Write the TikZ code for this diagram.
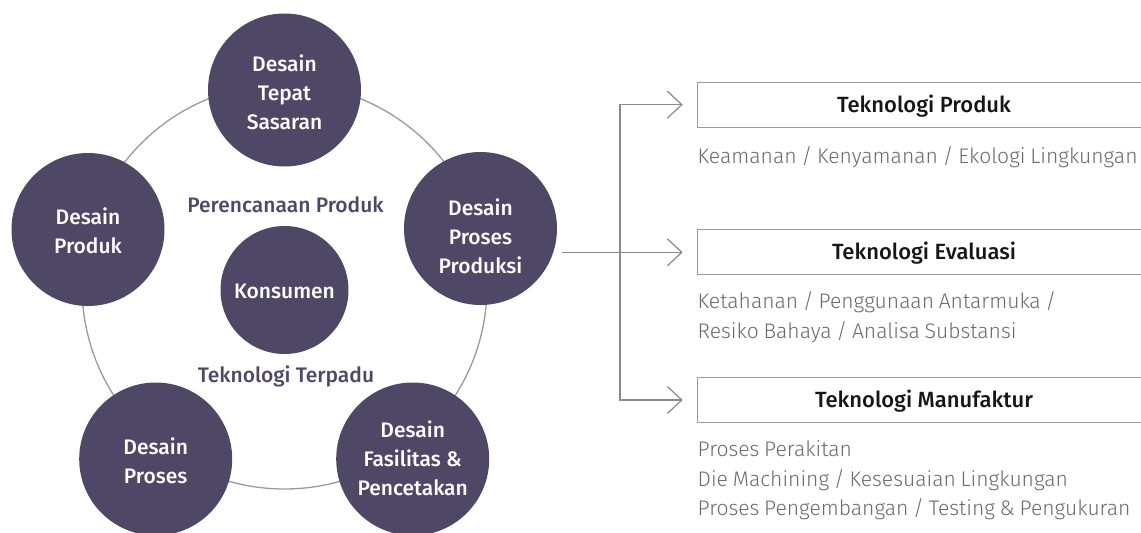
\documentclass[tikz,border=0pt]{standalone}
\usepackage{fontspec}
\setmainfont{Fira Sans}
\newfontfamily\fmed{Fira Sans Medium}
\newfontfamily\flight{Fira Sans Light}[WordSpace=0.8]
\usetikzlibrary{arrows.meta}
\definecolor{cfill}{HTML}{4E4766}
\definecolor{ringc}{HTML}{9A9A9A}
\definecolor{connc}{HTML}{8A8A8A}
\definecolor{boxc}{HTML}{9A9A9A}
\definecolor{titlec}{HTML}{161616}
\definecolor{descc}{HTML}{6A6A6A}
\begin{document}
\begin{tikzpicture}[x=1pt,y=-1pt,
  circ/.style={circle, fill=cfill, draw=none, minimum size=153pt, inner sep=0pt, outer sep=0pt},
  smallcirc/.style={circ, minimum size=128pt},
  ctext/.style={text=white, align=center, inner sep=0pt, font=\fmed\fontsize{21}{29}\selectfont},
  inlabel/.style={text=cfill, inner sep=0pt, anchor=base, font=\fmed\fontsize{21}{25}\selectfont},
  tbox/.style={draw=boxc, line width=1pt, minimum width=454pt, minimum height=45.3pt, inner sep=0pt, outer sep=0pt, anchor=west, text=titlec, text height=15pt, text depth=0pt, font=\fmed\fontsize{22}{26}\selectfont},
  desc/.style={text=descc, inner sep=0pt, anchor=base west, font=\flight\fontsize{21.1}{25}\selectfont},
  ringline/.style={draw=ringc, line width=1.3pt},
  conn/.style={draw=connc, line width=1.2pt},
  barb/.style={-{Straight Barb[length=14.5pt, width=27pt]}, shorten >=14.3pt},
  barbs/.style={{Straight Barb[length=14.5pt, width=27pt]}-{Straight Barb[length=14.5pt, width=27pt]}, shorten >=14.3pt, shorten <=14.3pt}
]
\useasboundingbox (0,0) rectangle (1141,533);
\clip (0,0) rectangle (1141,533);

% ring
\coordinate (rc) at (284.5,286.5);
\draw[ringline] (rc) circle[radius=202.5pt];

% circles
\node[circ] (top) at (284.5,90) {};
\node[circ] (prod) at (88,229.5) {};
\node[circ] (pp) at (480.5,228.5) {};
\node[smallcirc] (kons) at (284.5,290) {};
\node[circ] (proc) at (155.7,459) {};
\node[circ] (fas) at (412.7,459) {};

% circle texts
\node[ctext] (ttop) at (284.5,92.5) {Desain\\Tepat\\Sasaran};
\node[ctext] (tprod) at (88,230.7) {Desain\\Produk};
\node[ctext] (tpp) at (480.5,236) {Desain\\Proses\\Produksi};
\node[ctext] (tkons) at (284.5,291.7) {Konsumen};
\node[ctext] (tproc) at (155.7,461.2) {Desain\\Proses};
\node[ctext] (tfas) at (412.7,458.5) {Desain\\Fasilitas \&\\Pencetakan};

% inner labels
\node[inlabel] (lplan) at (285.5,212.2) {Perencanaan Produk};
\node[inlabel] (lint) at (286,382.9) {Teknologi Terpadu};

% boxes
\node[tbox] (b1) at (697,104.65) {Teknologi Produk};
\node[tbox] (b2) at (697,251.8) {Teknologi Evaluasi};
\node[tbox] (b3) at (697,400) {Teknologi Manufaktur};

% descriptions
\node[desc] (d1) at (697.5,163.9) {Keamanan / Kenyamanan / Ekologi Lingkungan};
\node[desc] (d2a) at (697.5,308.9) {Ketahanan / Penggunaan Antarmuka /};
\node[desc] (d2b) at (697.5,338.9) {Resiko Bahaya / Analisa Substansi};
\node[desc] (d3a) at (697.5,456.5) {Proses Perakitan};
\node[desc] (d3b) at (697.5,486.2) {Die Machining / Kesesuaian Lingkungan};
\node[desc] (d3c) at (697.5,515.5) {Proses Pengembangan / Testing \& Pengukuran};

% connectors
\coordinate (s) at (561.7,252.3);
\coordinate (j) at (620,252.3);
\draw[conn,barb] (s) -- (b2.west |- s);
\draw[conn,barbs] (b1.west) -- (j |- b1.west) -- (j |- b3.west) -- (b3.west);
\end{tikzpicture}
\end{document}
